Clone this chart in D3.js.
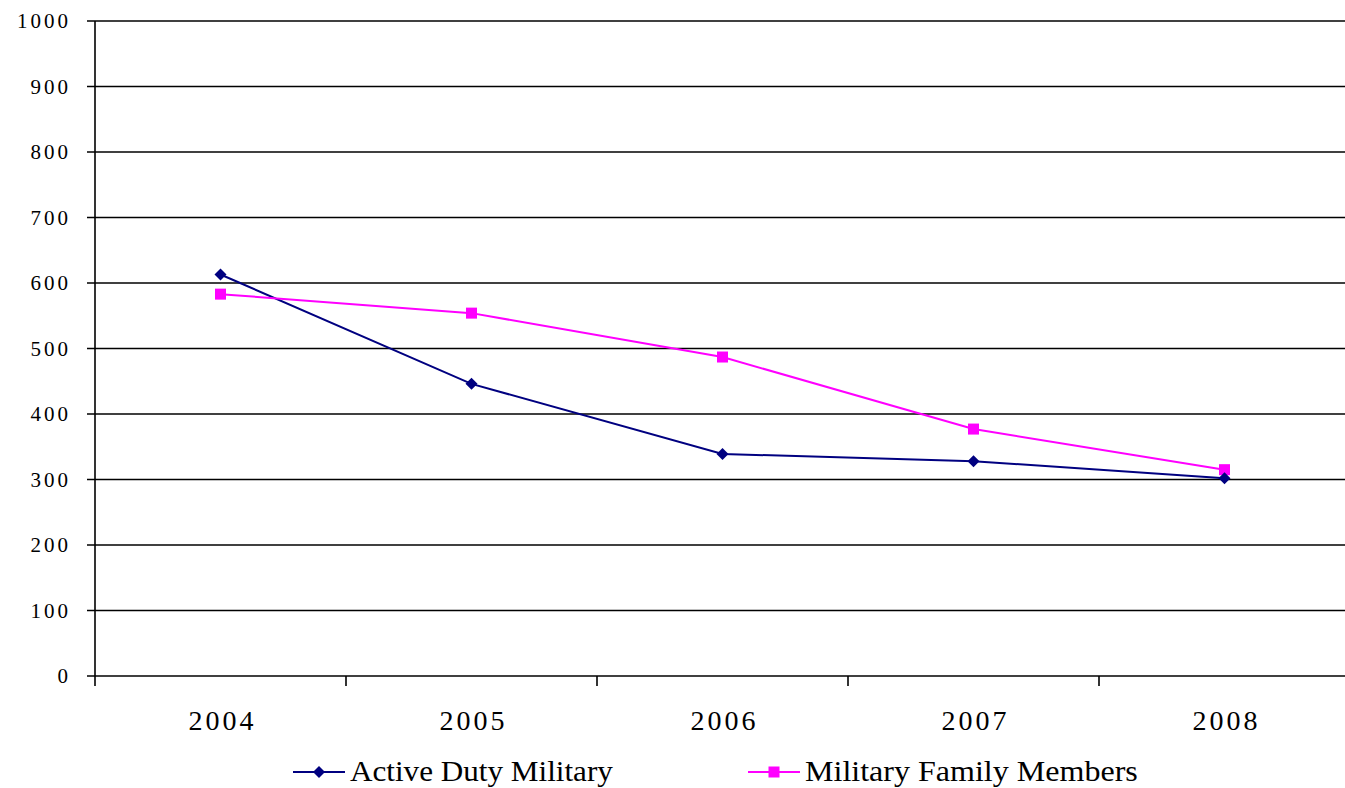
<!DOCTYPE html>
<html><head><meta charset="utf-8">
<script src="https://cdn.jsdelivr.net/npm/d3@7"></script>
<style>body{margin:0;background:#fff}svg{display:block}</style>
</head><body>
<svg id="c" width="1345" height="788"></svg>
<script>
const categories = ["2004","2005","2006","2007","2008"];
const activeDuty = [613, 446, 339, 328, 302];
const familyMembers = [583, 554, 487, 377, 315];
const yTicks = [0,100,200,300,400,500,600,700,800,900,1000];
const seriesNames = ["Active Duty Military","Military Family Members"];

const svg = d3.select("#c");
const L = 95, R = 1350, T = 21, B = 676;
const x = d3.scaleBand().domain(categories).range([L, R]);
const y = d3.scaleLinear().domain([0, 1000]).range([B, T]);
const serif = "'Liberation Serif', 'Times New Roman', serif";

// gridlines
svg.append("g").selectAll("line").data(yTicks).join("line")
  .attr("x1", 87).attr("x2", 1345)
  .attr("y1", d => y(d)).attr("y2", d => y(d))
  .attr("stroke", "#000").attr("stroke-width", 1.6);
// y axis line
svg.append("line").attr("x1", L).attr("x2", L).attr("y1", T).attr("y2", B + 10)
  .attr("stroke", "#000").attr("stroke-width", 1.6);
// y labels
svg.append("g").selectAll("text").data(yTicks).join("text")
  .attr("x", 71).attr("y", d => y(d) + 7).attr("text-anchor", "end")
  .attr("font-family", serif).attr("font-size", 21).attr("letter-spacing", 3)
  .text(d => d);
// x ticks at band boundaries
const bounds = categories.map(c => x(c)).slice(1);
svg.append("g").selectAll("line").data(bounds).join("line")
  .attr("x1", d => d).attr("x2", d => d).attr("y1", B).attr("y2", B + 10)
  .attr("stroke", "#000").attr("stroke-width", 1.6);
// x labels
svg.append("g").selectAll("text").data(categories).join("text")
  .attr("x", d => x(d) + x.bandwidth()/2 + 2).attr("y", 730).attr("text-anchor", "middle")
  .attr("font-family", serif).attr("font-size", 28).attr("letter-spacing", 3)
  .text(d => d);

const cx = d => x(d) + x.bandwidth()/2;
const line = d3.line().x(d => cx(d.c)).y(d => y(d.v));
const aData = categories.map((c,i) => ({c, v: activeDuty[i]}));
const fData = categories.map((c,i) => ({c, v: familyMembers[i]}));

const navy = "#000080", mag = "#FF00FF";
svg.append("path").datum(aData).attr("d", line).attr("fill","none").attr("stroke", navy).attr("stroke-width", 2);
svg.append("path").datum(fData).attr("d", line).attr("fill","none").attr("stroke", mag).attr("stroke-width", 2);

function drawDiamond(g, px, py){
  g.append("path").attr("d", "M0,-6L6,0L0,6L-6,0Z").attr("transform", `translate(${px},${py})`).attr("fill", navy);
}
function drawSquare(g, px, py){
  g.append("rect").attr("x", px-5.5).attr("y", py-5.5).attr("width", 11).attr("height", 11).attr("fill", mag);
}
const mg = svg.append("g");
fData.forEach(d => drawSquare(mg, cx(d.c), y(d.v)));
aData.forEach(d => drawDiamond(mg, cx(d.c), y(d.v)));

// legend
const lg = svg.append("g");
const legendX = [293, 748];
const legendW = [263, 333];
seriesNames.forEach((n,i) => {
  const lx = legendX[i], ly = 772;
  lg.append("line").attr("x1", lx).attr("x2", lx+52).attr("y1", ly).attr("y2", ly)
    .attr("stroke", i===0?navy:mag).attr("stroke-width", 2);
  if (i===0) drawDiamond(lg, lx+26, ly); else drawSquare(lg, lx+26, ly);
  const t = lg.append("text").attr("x", 0).attr("y", 0)
    .attr("font-family", serif).attr("font-size", 29)
    .text(n);
  const w = t.node().getComputedTextLength();
  t.attr("transform", `translate(${lx+57},${ly+9}) scale(${legendW[i]/w},1)`);
});
</script>
</body></html>
